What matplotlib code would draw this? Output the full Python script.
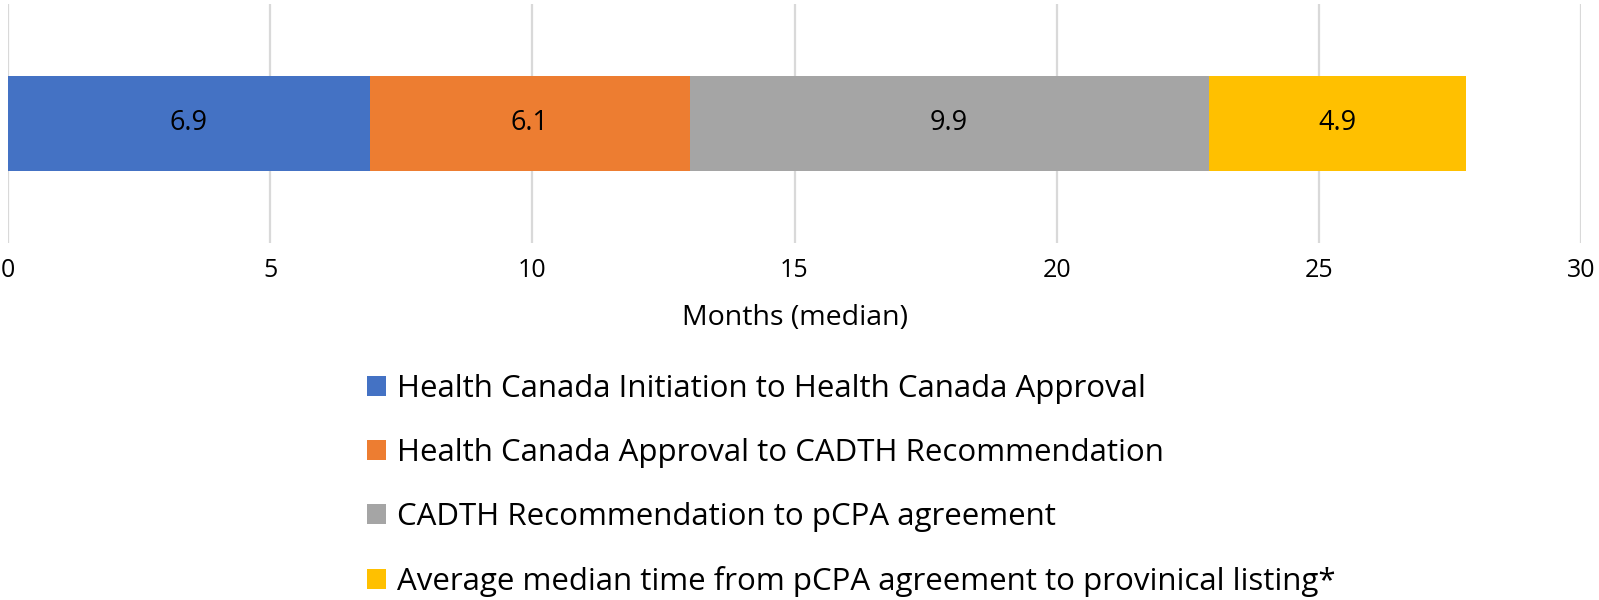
import matplotlib.pyplot as plt

plt.rcParams['font.family'] = ['Open Sans', 'DejaVu Sans']

stages = [
    'Health Canada Initiation to Health Canada Approval',
    'Health Canada Approval to CADTH Recommendation',
    'CADTH Recommendation to pCPA agreement',
    'Average median time from pCPA agreement to provinical listing*',
]
months = [6.9, 6.1, 9.9, 4.9]
colors = ['#4472c4', '#ed7d31', '#a5a5a5', '#ffc000']
x_ticks = [0, 5, 10, 15, 20, 25, 30]


def main():
    fig = plt.figure(figsize=(15.99, 6.0), dpi=100)
    ax = fig.add_axes([8 / 1599, 1 - 243 / 600, (1581 - 8) / 1599, 239 / 600])

    left = 0
    for name, val, col in zip(stages, months, colors):
        ax.barh(0, val, left=left, height=0.4, color=col, label=name, zorder=2)
        ax.text(left + val / 2, 0, f'{val:.1f}', ha='center', va='center',
                fontsize=19.5, color='black', zorder=3)
        left += val

    ax.set_xlim(0, 30)
    ax.set_ylim(-0.5, 0.5)
    ax.set_xticks(x_ticks)
    ax.set_yticks([])
    ax.tick_params(axis='x', length=0, labelsize=18, pad=11)
    ax.grid(axis='x', color='#d9d9d9', linewidth=1.6, zorder=0)
    for s in ax.spines.values():
        s.set_visible(False)
    ax.set_xlabel('Months (median)', fontsize=20.5, labelpad=15)

    fig.legend(loc='upper left', bbox_to_anchor=(367 / 1599, 1 - 374 / 600),
               frameon=False, fontsize=22.5, handlelength=0.61, handleheight=0.61,
               handletextpad=0.35, labelspacing=1.09, borderaxespad=0, borderpad=0)

    fig.savefig('out.png', dpi=100)


if __name__ == '__main__':
    main()
